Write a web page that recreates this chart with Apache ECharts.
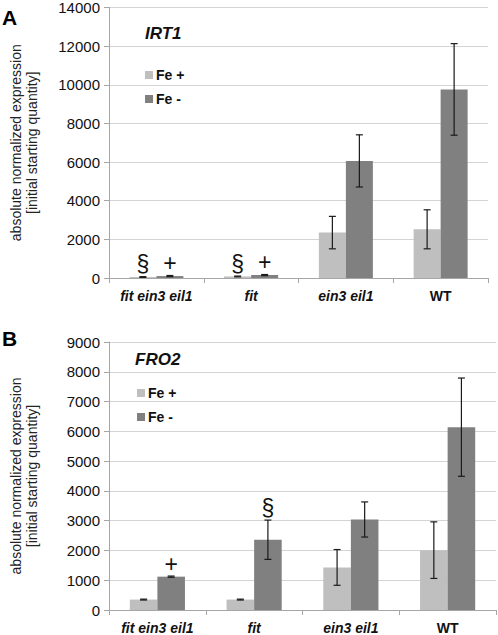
<!DOCTYPE html>
<html>
<head>
<meta charset="utf-8">
<script src="https://cdn.jsdelivr.net/npm/echarts@6/dist/echarts.min.js"></script>
<style>
html,body{margin:0;padding:0;background:#fff;}
#chart{width:498px;height:635px;}
</style>
</head>
<body>
<div id="chart"></div>
<script>
// ---- data ----
const categories = ['fit ein3 eil1', 'fit', 'ein3 eil1', 'WT'];
const seriesNames = ['Fe +', 'Fe -'];
const irt1FePlus = [50, 80, 2350, 2520];
const irt1FePlusErr = [20, 20, 840, 1010];
const irt1FeMinus = [100, 150, 6060, 9760];
const irt1FeMinusErr = [30, 30, 1350, 2370];
const irt1FePlusMarks = ['§', '§', '', ''];
const irt1FeMinusMarks = ['+', '+', '', ''];

const fro2FePlus = [350, 350, 1430, 2010];
const fro2FePlusErr = [15, 15, 600, 950];
const fro2FeMinus = [1120, 2360, 3040, 6140];
const fro2FeMinusErr = [20, 660, 590, 1650];
const fro2FePlusMarks = ['', '', '', ''];
const fro2FeMinusMarks = ['+', '§', '', ''];

const irt1Ticks = {min: 0, max: 14000, interval: 2000};
const fro2Ticks = {min: 0, max: 9000, interval: 1000};

// ---- styling ----
const FONT = 'Liberation Sans';
const colFePlus = '#bfbfbf';
const colFeMinus = '#808080';
const GAP = 0.43;

function errSeries(gridIdx, vals, errs, marks, side) {
  return {
    type: 'custom',
    xAxisIndex: gridIdx, yAxisIndex: gridIdx,
    z: 10,
    silent: true,
    data: vals.map((v, i) => [i, v, errs[i]]),
    encode: {x: 0, y: 1},
    renderItem: function (params, api) {
      const cat = api.value(0), v = api.value(1), e = api.value(2);
      const catW = api.size([1, 0])[0];
      const bw = catW * (1 - GAP) / 2;
      const x = api.coord([cat, v])[0] + side * bw / 2;
      const yt = api.coord([cat, v + e])[1];
      const yb = api.coord([cat, Math.max(0, v - e)])[1];
      const cw = 3.5;
      const st = {stroke: '#1a1a1a', lineWidth: 1.2};
      const children = [
        {type: 'line', shape: {x1: x, y1: yt, x2: x, y2: yb}, style: st},
        {type: 'line', shape: {x1: x - cw, y1: yt, x2: x + cw, y2: yt}, style: st},
        {type: 'line', shape: {x1: x - cw, y1: yb, x2: x + cw, y2: yb}, style: st}
      ];
      const m = marks[params.dataIndex];
      if (m) {
        children.push({type: 'text', style: {text: m, x: x, y: yt - 1, align: 'center', verticalAlign: 'bottom',
          fontFamily: FONT, fontSize: 23, fill: '#111'}});
      }
      return {type: 'group', children: children};
    }
  };
}

function barSeries(gridIdx, name, vals, color) {
  return {
    type: 'bar', name: name,
    xAxisIndex: gridIdx, yAxisIndex: gridIdx,
    data: vals,
    barGap: '0%', barCategoryGap: (GAP * 100) + '%',
    itemStyle: {color: color},
    silent: true
  };
}

function xAxis(gridIdx) {
  return {
    type: 'category', gridIndex: gridIdx, data: categories,
    axisLine: {lineStyle: {color: '#a6a6a6', width: 1}},
    axisTick: {show: true, alignWithLabel: false, length: 5, lineStyle: {color: '#a6a6a6'}},
    axisLabel: {interval: 0, margin: 11, fontFamily: FONT, fontSize: 14, fontWeight: 'bold',
      color: '#111', formatter: function (v) { return v === 'WT' ? '{n|WT}' : '{i|' + v + '}'; },
      rich: {i: {fontStyle: 'italic', fontWeight: 'bold', fontFamily: FONT, fontSize: 14, color: '#111'},
             n: {fontStyle: 'normal', fontWeight: 'bold', fontFamily: FONT, fontSize: 14, color: '#111'}}}
  };
}

function yAxis(gridIdx, t) {
  return {
    type: 'value', gridIndex: gridIdx, min: t.min, max: t.max, interval: t.interval,
    name: 'absolute normalized expression\n[initial starting quantity]',
    nameLocation: 'middle', nameRotate: 90, nameGap: 69,
    nameTextStyle: {fontFamily: FONT, fontSize: 14, color: '#222', lineHeight: 16},
    axisLine: {show: true, lineStyle: {color: '#a6a6a6'}},
    axisTick: {show: true, length: 5, lineStyle: {color: '#a6a6a6'}},
    splitLine: {lineStyle: {color: '#d4d4d4', width: 1.2}},
    axisLabel: {fontFamily: FONT, fontSize: 15, color: '#111', margin: 9,
      formatter: function (v) { return String(v); }}
  };
}

const legendText = {fontFamily: FONT, fontSize: 14, fontWeight: 'bold', color: '#111', padding: [0, 0, 0, -2]};

const chart = echarts.init(document.getElementById('chart'), null, {renderer: 'svg'});
chart.setOption({
  animation: false,
  backgroundColor: '#fff',
  grid: [
    {left: 96, right: 10, top: 7, height: 271},
    {left: 95, right: 2, top: 342, height: 269}
  ],
  title: [
    {text: 'IRT1', left: 140, top: 20, textStyle: {fontFamily: FONT, fontSize: 17, fontWeight: 'bold', fontStyle: 'italic', color: '#111'}},
    {text: 'FRO2', left: 130, top: 346, textStyle: {fontFamily: FONT, fontSize: 17, fontWeight: 'bold', fontStyle: 'italic', color: '#111'}},
    {text: 'A', left: -3, top: 2, textStyle: {fontFamily: FONT, fontSize: 21, fontWeight: 'bold', color: '#000'}},
    {text: 'B', left: -3, top: 323, textStyle: {fontFamily: FONT, fontSize: 21, fontWeight: 'bold', color: '#000'}}
  ],
  legend: [
    {data: seriesNames, orient: 'vertical', left: 140, top: 63, itemWidth: 8, itemHeight: 8, itemGap: 10,
     icon: 'rect', selectedMode: false, textStyle: legendText},
    {data: seriesNames, orient: 'vertical', left: 132, top: 381, itemWidth: 8, itemHeight: 8, itemGap: 10,
     icon: 'rect', selectedMode: false, textStyle: legendText}
  ],
  xAxis: [xAxis(0), xAxis(1)],
  yAxis: [yAxis(0, irt1Ticks), yAxis(1, fro2Ticks)],
  series: [
    barSeries(0, seriesNames[0], irt1FePlus, colFePlus),
    barSeries(0, seriesNames[1], irt1FeMinus, colFeMinus),
    barSeries(1, seriesNames[0], fro2FePlus, colFePlus),
    barSeries(1, seriesNames[1], fro2FeMinus, colFeMinus),
    errSeries(0, irt1FePlus, irt1FePlusErr, irt1FePlusMarks, -1),
    errSeries(0, irt1FeMinus, irt1FeMinusErr, irt1FeMinusMarks, 1),
    errSeries(1, fro2FePlus, fro2FePlusErr, fro2FePlusMarks, -1),
    errSeries(1, fro2FeMinus, fro2FeMinusErr, fro2FeMinusMarks, 1)
  ]
});
</script>
</body>
</html>
